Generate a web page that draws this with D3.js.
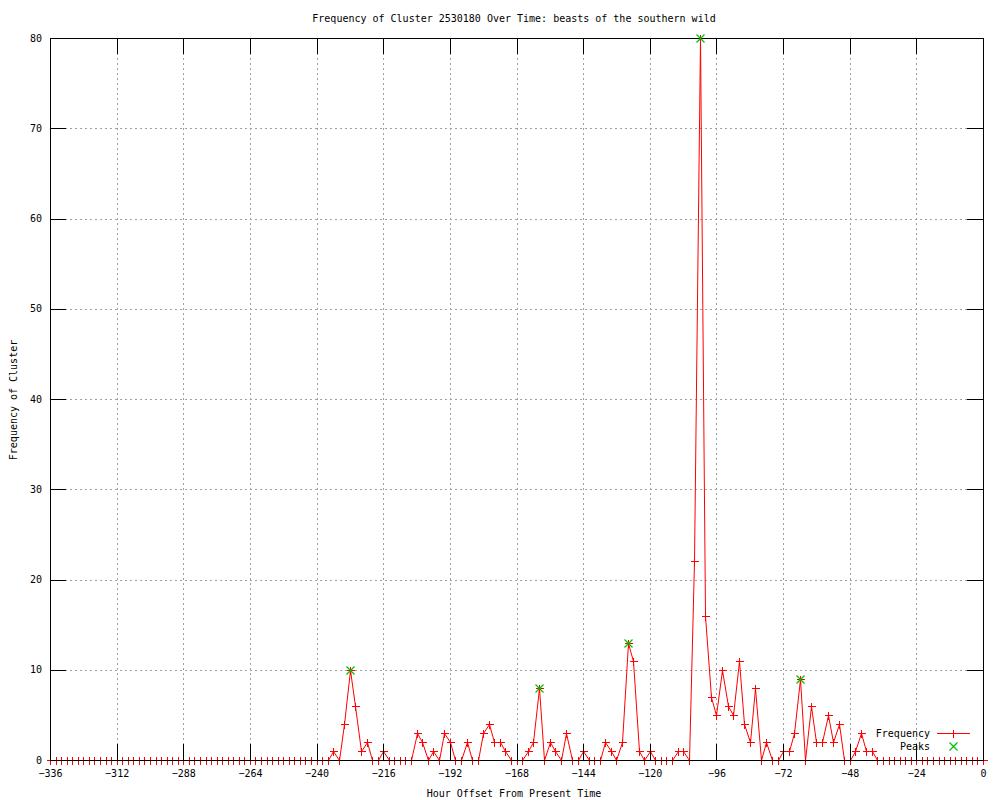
<!DOCTYPE html>
<html>
<head>
<meta charset="utf-8">
<script src="https://cdn.jsdelivr.net/npm/d3@7"></script>
<style>
body { margin: 0; background: #fff; }
svg text { font-family: "DejaVu Sans Mono", monospace; font-size: 10px; fill: #000; }
</style>
</head>
<body>
<div id="chart"></div>
<script>
// hour offsets (one bin every 2 hours)
const hours = [
    -336, -334, -332, -330, -328, -326, -324, -322, -320, -318, -316, -314,
    -312, -310, -308, -306, -304, -302, -300, -298, -296, -294, -292, -290,
    -288, -286, -284, -282, -280, -278, -276, -274, -272, -270, -268, -266,
    -264, -262, -260, -258, -256, -254, -252, -250, -248, -246, -244, -242,
    -240, -238, -236, -234, -232, -230, -228, -226, -224, -222, -220, -218,
    -216, -214, -212, -210, -208, -206, -204, -202, -200, -198, -196, -194,
    -192, -190, -188, -186, -184, -182, -180, -178, -176, -174, -172, -170,
    -168, -166, -164, -162, -160, -158, -156, -154, -152, -150, -148, -146,
    -144, -142, -140, -138, -136, -134, -132, -130, -128, -126, -124, -122,
    -120, -118, -116, -114, -112, -110, -108, -106, -104, -102, -100, -98,
    -96, -94, -92, -90, -88, -86, -84, -82, -80, -78, -76, -74,
    -72, -70, -68, -66, -64, -62, -60, -58, -56, -54, -52, -50,
    -48, -46, -44, -42, -40, -38, -36, -34, -32, -30, -28, -26,
    -24, -22, -20, -18, -16, -14, -12, -10, -8, -6, -4, -2,
    0
];

const frequency = [
    0, 0, 0, 0, 0, 0, 0, 0, 0, 0, 0, 0,
    0, 0, 0, 0, 0, 0, 0, 0, 0, 0, 0, 0,
    0, 0, 0, 0, 0, 0, 0, 0, 0, 0, 0, 0,
    0, 0, 0, 0, 0, 0, 0, 0, 0, 0, 0, 0,
    0, 0, 0, 1, 0, 4, 10, 6, 1, 2, 0, 0,
    1, 0, 0, 0, 0, 0, 3, 2, 0, 1, 0, 3,
    2, 0, 0, 2, 0, 0, 3, 4, 2, 2, 1, 0,
    0, 0, 1, 2, 8, 0, 2, 1, 0, 3, 0, 0,
    1, 0, 0, 0, 2, 1, 0, 2, 13, 11, 1, 0,
    1, 0, 0, 0, 0, 1, 1, 0, 22, 80, 16, 7,
    5, 10, 6, 5, 11, 4, 2, 8, 0, 2, 0, 0,
    1, 1, 3, 9, 0, 6, 2, 2, 5, 2, 4, 0,
    0, 1, 3, 1, 1, 0, 0, 0, 0, 0, 0, 0,
    0, 0, 0, 0, 0, 0, 0, 0, 0, 0, 0, 0,
    0
];

const peakHours = [-228, -160, -128, -102, -66];
const peakValues = [10, 8, 13, 80, 9];

const xTicks = [-336, -312, -288, -264, -240, -216, -192, -168, -144, -120, -96, -72, -48, -24, 0];
const yTicks = [0, 10, 20, 30, 40, 50, 60, 70, 80];

const seriesNames = ["Frequency", "Peaks"];

class FrequencyChart {

    constructor (hours, values, peakHours, peakValues) {
        this.points = hours.map((h, i) => ({hour: h, value: values[i]}));
        this.peaks = peakHours.map((h, i) => ({hour: h, value: peakValues[i]}));

        this.width = 1000;
        this.height = 800;
        this.plot = {left: 50, right: 983, top: 38, bottom: 760};
        this.tic = 16;
        this.red = "#ff0000";
        this.green = "#00c000";

        this.x = d3.scaleLinear().domain([-336, 0]).range([this.plot.left, this.plot.right]);
        this.y = d3.scaleLinear().domain([0, 80]).range([this.plot.bottom, this.plot.top]);

        this.draw();
    }

    // pixel-snapped position, like the gnuplot png output
    px (v) {
        return Math.round(v) + 0.5;
    }

    draw () {
        let that = this;
        let p = this.plot;

        let svg = d3.select("#chart").append("svg")
            .attr("width", this.width)
            .attr("height", this.height);

        // dotted grid
        let grid = svg.append("g").attr("shape-rendering", "crispEdges");
        grid.selectAll(".vgrid")
            .data(xTicks.slice(1, -1))
            .enter().append("line")
            .attr("x1", d => that.px(that.x(d)))
            .attr("x2", d => that.px(that.x(d)))
            .attr("y1", p.top)
            .attr("y2", p.bottom)
            .style("stroke", "#a0a0a0")
            .style("stroke-dasharray", "2,3");
        grid.selectAll(".hgrid")
            .data(yTicks.slice(1, -1))
            .enter().append("line")
            .attr("x1", p.left)
            .attr("x2", p.right)
            .attr("y1", d => that.px(that.y(d)))
            .attr("y2", d => that.px(that.y(d)))
            .style("stroke", "#a0a0a0")
            .style("stroke-dasharray", "2,3");

        // frequency line
        let line = d3.line()
            .x(d => that.px(that.x(d.hour)))
            .y(d => that.px(that.y(d.value)));

        svg.append("path")
            .datum(this.points)
            .attr("d", line)
            .style("fill", "none")
            .style("stroke", this.red)
            .style("stroke-width", 1);

        let plus = "M-4,0H4M0,-4V4";
        let cross = "M-4,-4L4,4M-4,4L4,-4";

        svg.append("g")
            .attr("shape-rendering", "crispEdges")
            .selectAll("path")
            .data(this.points)
            .enter().append("path")
            .attr("d", plus)
            .attr("transform", d => "translate(" + that.px(that.x(d.hour)) + "," + that.px(that.y(d.value)) + ")")
            .style("stroke", this.red)
            .style("fill", "none");

        // axes with inward ticks on all sides
        let axes = svg.append("g").attr("shape-rendering", "crispEdges");

        axes.append("g")
            .attr("transform", "translate(0," + p.bottom + ")")
            .call(d3.axisBottom(this.x).tickValues(xTicks).tickSizeInner(-this.tic).tickSizeOuter(0).tickPadding(10));
        axes.append("g")
            .attr("transform", "translate(0," + p.top + ")")
            .call(d3.axisTop(this.x).tickValues(xTicks).tickSizeInner(-this.tic).tickSizeOuter(0).tickFormat(""));
        axes.append("g")
            .attr("transform", "translate(" + p.left + ",0)")
            .call(d3.axisLeft(this.y).tickValues(yTicks).tickSizeInner(-this.tic).tickSizeOuter(0).tickPadding(8));
        axes.append("g")
            .attr("transform", "translate(" + p.right + ",0)")
            .call(d3.axisRight(this.y).tickValues(yTicks).tickSizeInner(-this.tic).tickSizeOuter(0).tickFormat(""));

        axes.selectAll(".domain").remove();
        axes.selectAll(".tick line").style("stroke", "#000");
        axes.selectAll("text")
            .attr("font-family", null)
            .attr("font-size", null);

        axes.append("rect")
            .attr("x", p.left + 0.5)
            .attr("y", p.top + 0.5)
            .attr("width", p.right - p.left)
            .attr("height", p.bottom - p.top)
            .style("fill", "none")
            .style("stroke", "#000");

        // peaks drawn over the border
        svg.append("g").selectAll("path")
            .data(this.peaks)
            .enter().append("path")
            .attr("d", cross)
            .attr("transform", d => "translate(" + that.px(that.x(d.hour)) + "," + that.px(that.y(d.value)) + ")")
            .style("stroke", this.green)
            .style("stroke-width", 1.2)
            .style("fill", "none");

        // titles
        svg.append("text")
            .attr("x", 514)
            .attr("y", 18)
            .attr("dy", "0.35em")
            .attr("text-anchor", "middle")
            .text("Frequency of Cluster 2530180 Over Time: beasts of the southern wild");

        svg.append("text")
            .attr("x", 514)
            .attr("y", 793)
            .attr("dy", "0.35em")
            .attr("text-anchor", "middle")
            .text("Hour Offset From Present Time");

        svg.append("text")
            .attr("transform", "translate(13,400) rotate(-90)")
            .attr("dy", "0.35em")
            .attr("text-anchor", "middle")
            .text("Frequency of Cluster");

        // legend
        let legend = svg.append("g");
        let legendY = [733, 746];
        legend.selectAll("text")
            .data(seriesNames)
            .enter().append("text")
            .attr("x", 930)
            .attr("y", (d, i) => legendY[i])
            .attr("dy", "0.35em")
            .attr("text-anchor", "end")
            .text(d => d);

        let keys = legend.append("g").attr("shape-rendering", "crispEdges");
        keys.append("path")
            .attr("d", "M937," + (legendY[0] + 0.5) + "H970")
            .style("fill", "none")
            .style("stroke", this.red);
        keys.append("path")
            .attr("d", plus)
            .attr("transform", "translate(953.5," + (legendY[0] + 0.5) + ")")
            .style("fill", "none")
            .style("stroke", this.red);
        legend.append("path")
            .attr("d", cross)
            .attr("transform", "translate(953.5," + (legendY[1] + 0.5) + ")")
            .style("fill", "none")
            .style("stroke-width", 1.2)
            .style("stroke", this.green);
    }

}

new FrequencyChart(hours, frequency, peakHours, peakValues);
</script>
</body>
</html>
